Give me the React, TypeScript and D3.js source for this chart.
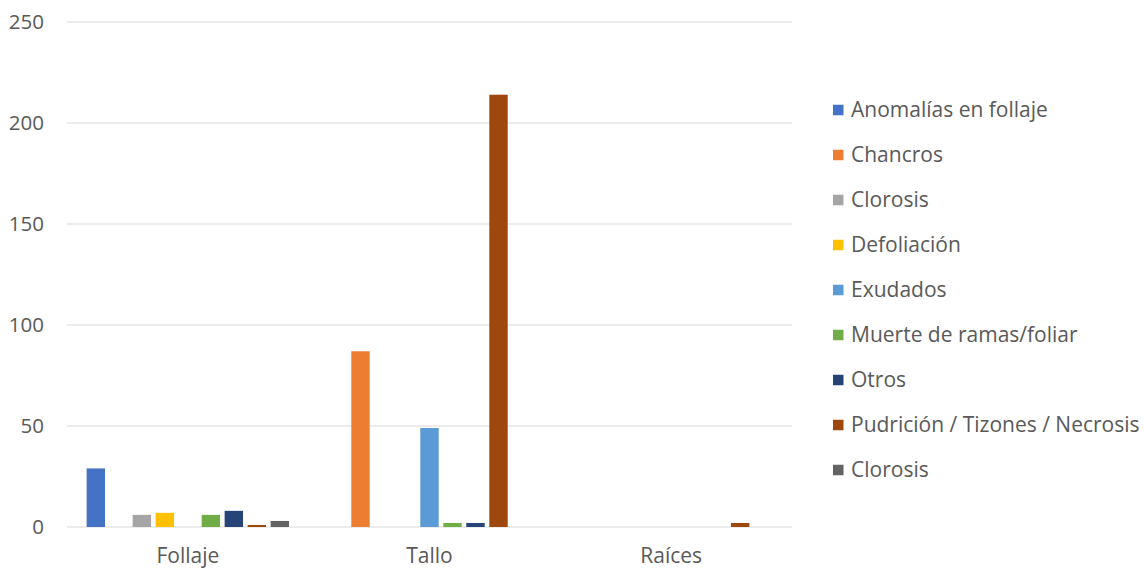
import React from "react";
import * as d3 from "d3";

const categories = ["Follaje", "Tallo", "Raíces"];
const seriesNames = [
  "Anomalías en follaje",
  "Chancros",
  "Clorosis",
  "Defoliación",
  "Exudados",
  "Muerte de ramas/foliar",
  "Otros",
  "Pudrición / Tizones / Necrosis",
  "Clorosis",
];
const seriesColors = [
  "#4472C4",
  "#ED7D31",
  "#A5A5A5",
  "#FFC000",
  "#5B9BD5",
  "#70AD47",
  "#264478",
  "#9E480E",
  "#636363",
];
// values per series: [Follaje, Tallo, Raíces]
const seriesValues = [
  [29, 0, 0],
  [0, 87, 0],
  [6, 0, 0],
  [7, 0, 0],
  [0, 49, 0],
  [6, 2, 0],
  [8, 2, 0],
  [1, 214, 2],
  [3, 0, 0],
];
const yTicks = [0, 50, 100, 150, 200, 250];

const W = 1144;
const H = 568;
const plotLeft = 67;
const plotRight = 792;
const plotTop = 22;
const plotBottom = 527;
const font = "'Open Sans', 'Liberation Sans', sans-serif";
const textColor = "#595959";

export default function App() {
  const y = d3.scaleLinear().domain([0, 250]).range([plotBottom, plotTop]);
  const x0 = d3.scaleBand<string>().domain(categories).range([plotLeft, plotRight]);
  const clusterW = 202.4;
  const x1 = d3
    .scaleBand<number>()
    .domain(d3.range(seriesNames.length))
    .range([0, clusterW])
    .paddingInner(0.2)
    .paddingOuter(0);
  const bw = x0.bandwidth();

  return (
    <svg
      width={W}
      height={H}
      style={{ position: "absolute", left: 0, top: 0, background: "#fff" }}
    >
      {yTicks.map((t) => (
        <g key={t}>
          <line
            x1={plotLeft}
            x2={plotRight}
            y1={y(t)}
            y2={y(t)}
            stroke="#d9d9d9"
            strokeWidth={1}
          />
          <text
            x={44}
            y={y(t)}
            dy="0.35em"
            textAnchor="end"
            fontFamily={font}
            fontSize={20.5}
            fill={textColor}
          >
            {t}
          </text>
        </g>
      ))}
      {categories.map((c, ci) => {
        const start = (x0(c) as number) + (bw - clusterW) / 2;
        return (
          <g key={c}>
            {seriesValues.map((vals, si) =>
              vals[ci] > 0 ? (
                <rect
                  key={si}
                  x={start + (x1(si) as number)}
                  y={y(vals[ci])}
                  width={x1.bandwidth()}
                  height={plotBottom - y(vals[ci])}
                  fill={seriesColors[si]}
                />
              ) : null
            )}
            <text
              x={(x0(c) as number) + bw / 2}
              y={556}
              dy="0.35em"
              textAnchor="middle"
              fontFamily={font}
              fontSize={21}
              fill={textColor}
            >
              {c}
            </text>
          </g>
        );
      })}
      {seriesNames.map((n, i) => (
        <g key={i} transform={`translate(833, ${110 + i * 45})`}>
          <rect x={0} y={-5.25} width={10.5} height={10.5} fill={seriesColors[i]} />
          <text
            x={18}
            y={0}
            dy="0.35em"
            fontFamily={font}
            fontSize={21}
            fill={textColor}
          >
            {n}
          </text>
        </g>
      ))}
    </svg>
  );
}
